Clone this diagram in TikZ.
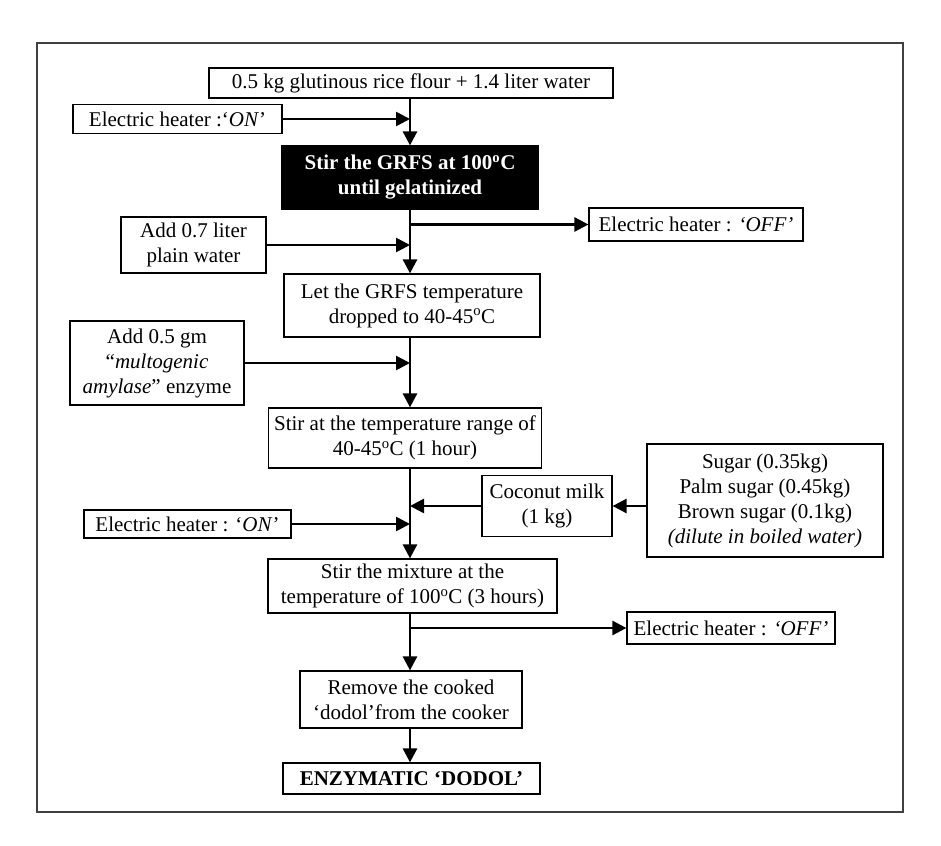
\documentclass[tikz,border=0pt]{standalone}
\usepackage{fontspec}
\setmainfont{Liberation Serif}
\usetikzlibrary{arrows.meta}
\begin{document}
\begin{tikzpicture}[x=1pt,y=-1pt,
 box/.style={draw=black, line width=1.2pt, align=center, inner sep=0pt, font=\fontsize{21}{25}\selectfont},
 blackbox/.style={box, fill=black, text=white, font=\fontsize{21}{25}\selectfont\bfseries},
 arr/.style={line width=2.6pt, -{Triangle[length=14pt,width=14pt]}},
 frame/.style={line width=1.5pt, draw=black!75}
]
\useasboundingbox (0,0) rectangle (941,845);
\draw[frame] (37,43) rectangle (903,812);
\coordinate (ax) at (410,0);

\node[box, minimum width=404pt, minimum height=30pt] (n1) at (411,83) {0.5 kg glutinous rice flour + 1.4 liter water};
\node[box, minimum width=209pt, minimum height=29pt] (on1) at (177.5,119) {Electric heater :‘\textit{ON}’};
\node[blackbox, minimum width=256pt, minimum height=63pt] (gel) at (410,177.5) {Stir the GRFS at 100\textsuperscript{o}C\\until gelatinized};
\node[box, minimum width=214pt, minimum height=33pt] (off1) at (696,224.5) {Electric heater : \textit{‘OFF’}};
\node[box, minimum width=145pt, minimum height=56pt] (add07) at (193.5,245) {Add 0.7 liter\\plain water};
\node[box, minimum width=256pt, minimum height=63pt] (let) at (412,305.5) {Let the GRFS temperature\\dropped to 40-45\textsuperscript{o}C};
\node[box, minimum width=174pt, minimum height=84pt] (add05) at (157,363) {Add 0.5 gm\\“\textit{multogenic}\\\textit{amylase}” enzyme};
\node[box, minimum width=273pt, minimum height=60pt] (stir1) at (405,438) {Stir at the temperature range of\\40-45\textsuperscript{o}C (1 hour)};
\node[box, minimum width=130pt, minimum height=61pt] (coco) at (547,506) {Coconut milk\\(1 kg)};
\node[box, minimum width=236pt, minimum height=113pt] (sugar) at (765,500.5) {Sugar (0.35kg)\\Palm sugar (0.45kg)\\Brown sugar (0.1kg)\\\textit{(dilute in boiled water)}};
\node[box, minimum width=207pt, minimum height=28pt] (on2) at (187.5,524) {Electric heater : ‘\textit{ON}’};
\node[box, minimum width=289pt, minimum height=54pt] (stir2) at (412.5,586) {Stir the mixture at the\\temperature of 100\textsuperscript{o}C (3 hours)};
\node[box, minimum width=208pt, minimum height=32pt] (off2) at (731,628) {Electric heater : \textit{‘OFF’}};
\node[box, minimum width=222pt, minimum height=57pt] (rem) at (411,699.5) {Remove the cooked\\‘dodol’from the cooker};
\node[box, minimum width=257pt, minimum height=31pt, font=\fontsize{21}{25}\selectfont\bfseries] (enz) at (411.5,778.5) {ENZYMATIC ‘DODOL’};

% main flow
\draw[arr] (n1.south -| ax) -- (gel.north -| ax);
\draw[arr] (on1.east) -- (on1.east -| ax);
\draw[arr] (gel.south -| ax) -- (let.north -| ax);
\draw[arr] (off1.west -| ax) -- (off1.west);
\draw[arr] (add07.east) -- (add07.east -| ax);
\draw[arr] (let.south -| ax) -- (stir1.north -| ax);
\draw[arr] (add05.east) -- (add05.east -| ax);
\draw[arr] (stir1.south -| ax) -- (stir2.north -| ax);
\draw[arr] (coco.west) -- (coco.west -| ax);
\draw[arr] (sugar.west |- coco.west) -- (coco.east);
\draw[arr] (on2.east) -- (on2.east -| ax);
\draw[arr] (stir2.south -| ax) -- (rem.north -| ax);
\draw[arr] (off2.west -| ax) -- (off2.west);
\draw[arr] (rem.south -| ax) -- (enz.north -| ax);
\end{tikzpicture}
\end{document}
